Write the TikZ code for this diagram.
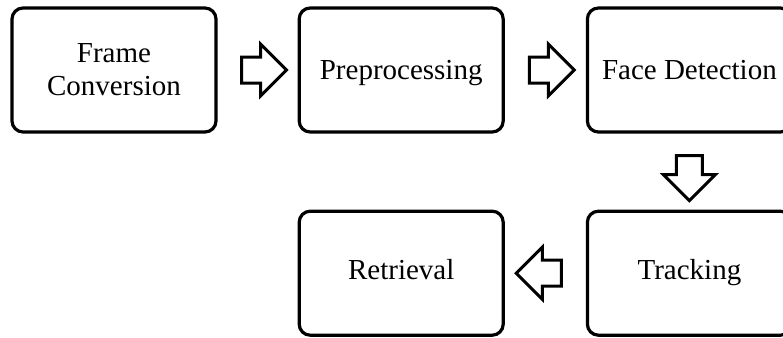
\documentclass[tikz,border=0pt]{standalone}
\usepackage{fontspec}
\setmainfont{Liberation Serif}
\usetikzlibrary{positioning,shapes.arrows}
\tikzset{
  stage/.style={draw, line width=3.2pt, rounded corners=11pt, minimum width=204pt, minimum height=124pt, align=center, font=\fontsize{29}{33}\selectfont},
  oneline/.style={text height=20pt, text depth=7pt},
  flowarrow/.style={single arrow, draw, line width=3pt, inner sep=11.5pt, minimum height=45pt, single arrow head extend=13pt}
}
\begin{document}
\begin{tikzpicture}[x=1pt,y=-1pt]
\useasboundingbox (0,0) rectangle (783,337);
%\draw[help lines] (0,0) grid[step=50] (783,337);
\node[stage] (fc) at (114,70) {Frame\\Conversion};
\node[stage, oneline, text height=26pt, right=80pt of fc] (pp) {Preprocessing};
\node[stage, oneline, text height=26pt, right=81pt of pp] (fd) {Face Detection};
\node[stage, oneline, below=76pt of fd] (tr) {Tracking};
\node[stage, oneline, left=81pt of tr] (rt) {Retrieval};
% block arrows between the stages
\path (fc) -- (pp) node[midway, flowarrow] (a1) {};
\path (pp) -- (fd) node[midway, flowarrow] (a2) {};
\path (fd) -- (tr) node[midway, flowarrow, shape border rotate=270] (a3) {};
\path (tr) -- (rt) node[midway, flowarrow, shape border rotate=180] (a4) {};
\end{tikzpicture}
\end{document}
